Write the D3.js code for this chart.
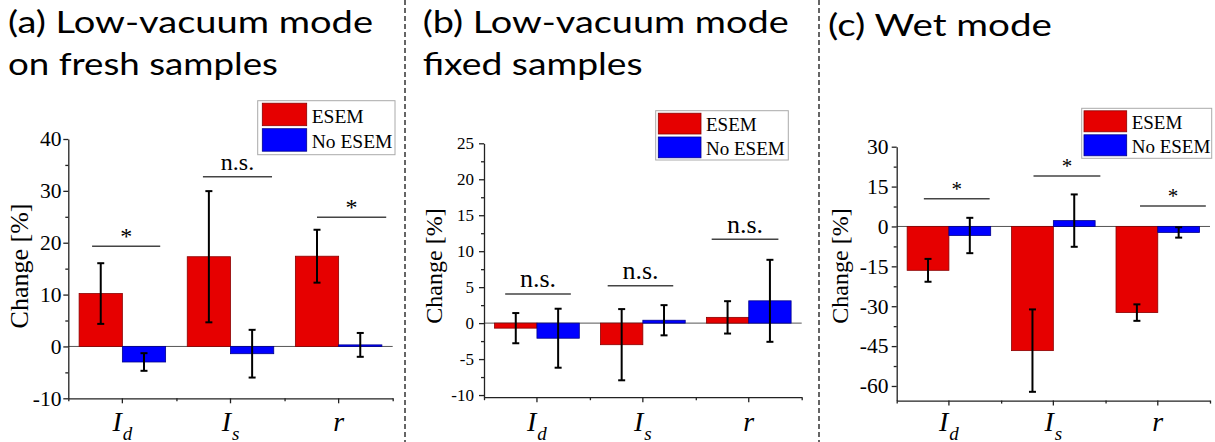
<!DOCTYPE html>
<html>
<head>
<meta charset="utf-8">
<script src="https://cdn.jsdelivr.net/npm/d3@7"></script>
<style>
  body { margin: 0; background: #fff; }
  svg { display: block; }
  .serif { font-family: "Liberation Serif", "Times New Roman", serif; }
</style>
</head>
<body>
<svg id="chart" width="1215" height="442"></svg>
<script>
// ---- data ----
const categories = ["Id", "Is", "r"];
const catMain = ["I", "I", "r"];
const catSub = ["d", "s", ""];
const seriesNames = ["ESEM", "No ESEM"];

// (a) low-vacuum mode, fresh samples
const freshEsem = [10.2, 17.3, 17.4];
const freshEsemSd = [5.85, 12.65, 5.1];
const freshNoEsem = [-3.0, -1.4, 0.3];
const freshNoEsemSd = [1.7, 4.6, 2.3];
const freshSig = ["*", "n.s.", "*"];
const freshSigY = [19.3, 32.7, 24.9];
const freshSigFrom = [-0.28, 0.745, 1.80];
const freshSigTo = [0.35, 1.384, 2.44];
const freshTicks = [-10, 0, 10, 20, 30, 40];

// (b) low-vacuum mode, fixed samples
const fixedEsem = [-0.7, -3.0, 0.8];
const fixedEsemSd = [2.1, 4.95, 2.25];
const fixedNoEsem = [-2.1, 0.4, 3.1];
const fixedNoEsemSd = [4.1, 2.1, 5.7];
const fixedSig = ["n.s.", "n.s.", "n.s."];
const fixedSigY = [4.05, 5.2, 11.65];
const fixedSigFrom = [-0.30, 0.668, 1.65];
const fixedSigTo = [0.32, 1.287, 2.28];
const fixedTicks = [-10, -5, 0, 5, 10, 15, 20, 25];

// (c) wet mode
const wetEsem = [-16.5, -46.7, -32.4];
const wetEsemSd = [4.3, 15.5, 3.1];
const wetNoEsem = [-3.4, 2.2, -2.25];
const wetNoEsemSd = [6.65, 9.85, 1.95];
const wetSig = ["*", "*", "*"];
const wetSigY = [10.45, 19.0, 7.7];
const wetSigFrom = [-0.24, 0.81, 1.83];
const wetSigTo = [0.39, 1.45, 2.46];
const wetTicks = [-60, -45, -30, -15, 0, 15, 30];

const colors = {ESEM: "#e60000", "No ESEM": "#0000ff"};
const strokes = {ESEM: "#8a0000", "No ESEM": "#00008a"};
const serif = "Liberation Serif";
const sans = "Lato";

const svg = d3.select("#chart");

// panel layouts
const panels = [
  {
    esem: freshEsem, esemSd: freshEsemSd, no: freshNoEsem, noSd: freshNoEsemSd,
    sig: freshSig, sigY: freshSigY, sigFrom: freshSigFrom, sigTo: freshSigTo,
    ticks: freshTicks, minor: 5, domain: [-10, 40],
    x0: 68.3, x1: 392.7, yBot: 398.3, yTop: 139,
    tickSize: 21.5, tickGap: 1.8, yTitleX: 28, yTitleSize: 26, sigSize: 24,
    titles: [{t: "(a) Low-vacuum mode", x: 8, y: 33, w: 365}, {t: "on fresh samples", x: 8, y: 75, w: 270}],
    legend: {x: 257.7, y: 100.7, w: 137.3, h: 54, sw: 44.4, sh: 22.5, pad: 4.6, fs: 19.5}
  },
  {
    esem: fixedEsem, esemSd: fixedEsemSd, no: fixedNoEsem, noSd: fixedNoEsemSd,
    sig: fixedSig, sigY: fixedSigY, sigFrom: fixedSigFrom, sigTo: fixedSigTo,
    ticks: fixedTicks, minor: 2.5, domain: [-10.3, 25],
    x0: 484, x1: 801.7, yBot: 397.2, yTop: 143.3,
    tickSize: 17, tickGap: 5, yTitleX: 441.5, yTitleSize: 24, sigSize: 26,
    titles: [{t: "(b) Low-vacuum mode", x: 422.7, y: 33, w: 366}, {t: "fixed samples", x: 422.7, y: 75, w: 220}],
    legend: {x: 655.7, y: 110.7, w: 132.6, h: 49.3, sw: 42.7, sh: 20.8, pad: 2.6, fs: 19}
  },
  {
    esem: wetEsem, esemSd: wetEsemSd, no: wetNoEsem, noSd: wetNoEsemSd,
    sig: wetSig, sigY: wetSigY, sigFrom: wetSigFrom, sigTo: wetSigTo,
    ticks: wetTicks, minor: 7.5, domain: [-65.5, 30],
    x0: 896.7, x1: 1210, yBot: 400.6, yTop: 146.7,
    tickSize: 21.5, tickGap: 3.2, yTitleX: 848, yTitleSize: 24, sigSize: 21,
    titles: [{t: "(c) Wet mode", x: 828, y: 36, w: 224}],
    legend: {x: 1081.7, y: 108.3, w: 130, h: 50, sw: 42.7, sh: 21, pad: 2.3, fs: 19}
  }
];

// dashed separators
[405, 819].forEach(function(sx) {
  svg.append("line").attr("x1", sx).attr("x2", sx).attr("y1", 0).attr("y2", 442)
    .attr("stroke", "#333").attr("stroke-width", 1.5).attr("stroke-dasharray", "5,3");
});

panels.forEach(function(p) {
  const g = svg.append("g");

  // titles
  p.titles.forEach(function(t) {
    g.append("text").attr("x", t.x).attr("y", t.y)
      .attr("textLength", t.w).attr("lengthAdjust", "spacingAndGlyphs")
      .attr("font-family", sans).attr("font-size", 31).attr("fill", "#000")
      .text(t.t);
  });

  const x = d3.scaleBand().domain(categories).range([p.x0, p.x1]).padding(0);
  const sub = d3.scaleBand().domain(seriesNames).range([0, x.bandwidth()])
    .paddingInner(0).paddingOuter(0.25);
  const y = d3.scaleLinear().domain(p.domain).range([p.yBot, p.yTop]);
  const catPos = d3.scaleLinear().domain([0, 1])
    .range([x(categories[0]) + x.bandwidth() / 2, x(categories[1]) + x.bandwidth() / 2]);

  const rows = [];
  categories.forEach(function(c, i) {
    rows.push({cat: c, s: "ESEM", v: p.esem[i], sd: p.esemSd[i]});
    rows.push({cat: c, s: "No ESEM", v: p.no[i], sd: p.noSd[i]});
  });

  // zero line
  g.append("line").attr("x1", p.x0).attr("x2", p.x1).attr("y1", y(0)).attr("y2", y(0))
    .attr("stroke", "#555").attr("stroke-width", 1);

  // bars
  g.selectAll("rect.bar").data(rows).enter().append("rect")
    .attr("class", "bar")
    .attr("x", d => x(d.cat) + sub(d.s))
    .attr("width", sub.bandwidth())
    .attr("y", d => y(Math.max(0, d.v)))
    .attr("height", d => Math.abs(y(d.v) - y(0)))
    .attr("fill", d => colors[d.s])
    .attr("stroke", d => strokes[d.s]).attr("stroke-width", 0.8);

  // error bars
  const eb = g.selectAll("g.err").data(rows).enter().append("g").attr("class", "err")
    .attr("stroke", "#000").attr("stroke-width", 2);
  const cx = d => x(d.cat) + sub(d.s) + sub.bandwidth() / 2;
  eb.append("line").attr("x1", cx).attr("x2", cx)
    .attr("y1", d => y(d.v - d.sd)).attr("y2", d => y(d.v + d.sd));
  [-1, 1].forEach(function(k) {
    eb.append("line").attr("x1", d => cx(d) - 3.5).attr("x2", d => cx(d) + 3.5)
      .attr("y1", d => y(d.v + k * d.sd)).attr("y2", d => y(d.v + k * d.sd));
  });

  // significance
  categories.forEach(function(c, i) {
    const a = catPos(p.sigFrom[i]), b = catPos(p.sigTo[i]);
    const ly = y(p.sigY[i]);
    g.append("line").attr("x1", a).attr("x2", b).attr("y1", ly).attr("y2", ly)
      .attr("stroke", "#444").attr("stroke-width", 1.5);
    const star = p.sig[i] === "*";
    g.append("text").attr("x", (a + b) / 2).attr("y", ly - (star ? 2.5 : 6.5))
      .attr("text-anchor", "middle").attr("class", "serif")
      .attr("font-size", p.sigSize)
      .text(p.sig[i]);
  });

  // y axis
  const ya = g.append("g").attr("transform", "translate(" + p.x0 + ",0)")
    .call(d3.axisLeft(y).tickValues(p.ticks).tickSize(5).tickSizeOuter(0).tickPadding(p.tickGap)
      .tickFormat(d => String(d)));
  ya.attr("font-family", serif).attr("font-size", p.tickSize);
  ya.selectAll("text").attr("class", "serif").attr("fill", "#000");
  const minorVals = d3.range(p.ticks[0] + p.minor, p.ticks[p.ticks.length - 1], p.minor * 2);
  g.append("g").attr("transform", "translate(" + p.x0 + ",0)")
    .call(d3.axisLeft(y).tickValues(minorVals).tickSize(3).tickFormat(""))
    .select(".domain").remove();

  // x axis
  g.append("g").attr("transform", "translate(0," + p.yBot + ")")
    .call(d3.axisBottom(x).tickSize(5).tickSizeOuter(0).tickFormat(""));
  const bounds = d3.scaleLinear().domain([0, categories.length]).range([p.x0, p.x1]);
  g.append("g").attr("transform", "translate(0," + p.yBot + ")")
    .call(d3.axisBottom(bounds).tickValues(d3.range(0, categories.length + 1)).tickSize(3).tickFormat(""))
    .select(".domain").remove();
  g.selectAll(".domain, .tick line").attr("stroke", "#222").attr("stroke-width", 1.3);

  // category labels
  categories.forEach(function(c, i) {
    const t = g.append("text").attr("x", x(c) + x.bandwidth() / 2).attr("y", 431)
      .attr("text-anchor", "middle").attr("class", "serif")
      .attr("font-style", "italic").attr("font-size", 28)
      .text(catMain[i]);
    if (catSub[i]) {
      t.append("tspan").attr("dy", 8.5).attr("dx", 1).attr("font-size", 19).text(catSub[i]);
    }
  });

  // y title
  g.append("text")
    .attr("transform", "translate(" + p.yTitleX + "," + 266 + ") rotate(-90)")
    .attr("text-anchor", "middle").attr("class", "serif")
    .attr("font-size", p.yTitleSize)
    .text("Change [%]");

  // legend
  const L = p.legend;
  g.append("rect").attr("x", L.x).attr("y", L.y).attr("width", L.w).attr("height", L.h)
    .attr("fill", "#fff").attr("stroke", "#aaa").attr("stroke-width", 1);
  seriesNames.forEach(function(s, i) {
    const sy = L.y + 2.5 + i * (L.sh + 3);
    g.append("rect").attr("x", L.x + L.pad).attr("y", sy).attr("width", L.sw).attr("height", L.sh)
      .attr("fill", colors[s]).attr("stroke", strokes[s]).attr("stroke-width", 0.8);
    g.append("text").attr("x", L.x + L.pad + L.sw + 5).attr("y", sy + L.sh - 3)
      .attr("class", "serif").attr("font-size", L.fs)
      .text(s);
  });
});
</script>
</body>
</html>
